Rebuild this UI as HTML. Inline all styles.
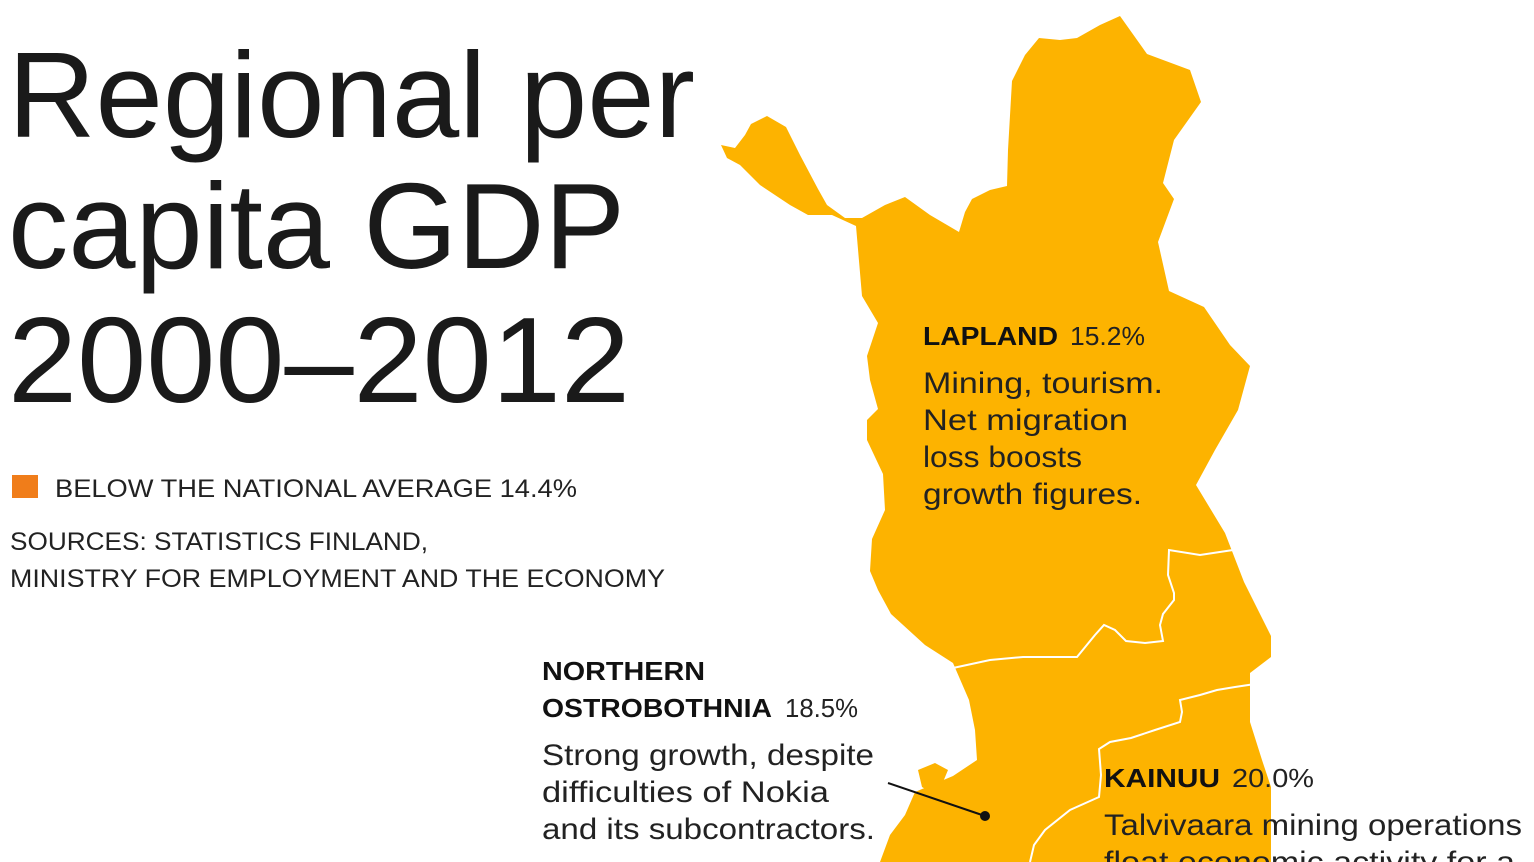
<!DOCTYPE html>
<html><head><meta charset="utf-8"><style>
html,body{margin:0;padding:0;background:#fff;}
svg{display:block;}
text{font-family:"Liberation Sans",sans-serif;fill:#1a1a1a;}
.t{font-size:122px;}
.s{font-size:25px;fill:#222;}
.b{font-size:26px;font-weight:bold;fill:#111;}
.p{font-size:26px;fill:#222;}
.m{font-size:30px;fill:#222;}
</style></head><body>
<svg width="1534" height="862" viewBox="0 0 1534 862" xmlns="http://www.w3.org/2000/svg">
<rect width="1534" height="862" fill="#fff"/>
<path fill="#fdb300" d="M1120,16 L1147,54 L1190,70 L1201,102 L1174,140 L1163,183 L1174,199 L1158,242 L1169,291 L1204,307 L1230,345 L1250,366 L1238,410 L1215,450 L1196,485 L1225,533 L1244,582 L1258,610 L1271,636 L1271,657 L1250,673 L1250,722 L1262,760 L1271,787 L1271,862 L880,862 L890,835 L905,815 L915,792 L953,776 L977,760 L975,730 L969,700 L953,663 L925,645 L891,614 L878,590 L870,571 L872,539 L885,510 L883,474 L867,440 L867,420 L878,409 L870,380 L867,356 L878,323 L862,296 L856,226 L832,215 L808,215 L790,205 L760,185 L740,165 L727,158 L721,145 L735,148 L745,135 L751,124 L767,116 L786,127 L800,155 L818,189 L827,205 L845,218 L862,218 L885,205 L905,197 L930,215 L959,232 L965,212 L972,199 L990,190 L1007,186 L1008,150 L1012,81 L1025,55 L1039,38 L1060,40 L1077,38 L1100,25 Z"/>
<path fill="#fdb300" d="M918,770 L935,763 L948,770 L943,782 L952,790 L935,795 L922,787 Z"/>
<polyline fill="none" stroke="#fff" stroke-width="2" points="953,668 990,660 1023,657 1077,657 1095,635 1104,625 1115,630 1126,641 1145,643 1163,641 1160,625 1163,614 1174,600 1174,593 1168,575 1169,550 1200,555 1233,550 1242,548"/>
<polyline fill="none" stroke="#fff" stroke-width="2" points="1255,684 1235,687 1217,690 1200,695 1180,700 1182,712 1180,722 1155,730 1131,738 1110,742 1099,749 1101,775 1099,797 1070,810 1045,830 1034,845 1030,862"/>
<text class="t" x="8" y="137" textLength="687" lengthAdjust="spacingAndGlyphs">Regional per</text>
<text class="t" x="8" y="268" textLength="617" lengthAdjust="spacingAndGlyphs">capita GDP</text>
<text class="t" x="8" y="402" textLength="622" lengthAdjust="spacingAndGlyphs">2000–2012</text>
<rect x="12" y="475" width="26" height="23" fill="#f07d1a"/>
<text class="s" x="55" y="497" textLength="522" lengthAdjust="spacingAndGlyphs">BELOW THE NATIONAL AVERAGE 14.4%</text>
<text class="s" x="10" y="550" textLength="418" lengthAdjust="spacingAndGlyphs">SOURCES: STATISTICS FINLAND,</text>
<text class="s" x="10" y="587" textLength="655" lengthAdjust="spacingAndGlyphs">MINISTRY FOR EMPLOYMENT AND THE ECONOMY</text>
<text class="b" x="923" y="345" textLength="135" lengthAdjust="spacingAndGlyphs">LAPLAND</text>
<text class="p" x="1070" y="345" textLength="75" lengthAdjust="spacingAndGlyphs">15.2%</text>
<text class="m" x="923" y="393" textLength="240" lengthAdjust="spacingAndGlyphs">Mining, tourism.</text>
<text class="m" x="923" y="430" textLength="205" lengthAdjust="spacingAndGlyphs">Net migration</text>
<text class="m" x="923" y="467" textLength="159" lengthAdjust="spacingAndGlyphs">loss boosts</text>
<text class="m" x="923" y="504" textLength="219" lengthAdjust="spacingAndGlyphs">growth figures.</text>
<text class="b" x="542" y="680" textLength="163" lengthAdjust="spacingAndGlyphs">NORTHERN</text>
<text class="b" x="542" y="717" textLength="230" lengthAdjust="spacingAndGlyphs">OSTROBOTHNIA</text>
<text class="p" x="785" y="717" textLength="73" lengthAdjust="spacingAndGlyphs">18.5%</text>
<text class="m" x="542" y="765" textLength="332" lengthAdjust="spacingAndGlyphs">Strong growth, despite</text>
<text class="m" x="542" y="802" textLength="287" lengthAdjust="spacingAndGlyphs">difficulties of Nokia</text>
<text class="m" x="542" y="839" textLength="333" lengthAdjust="spacingAndGlyphs">and its subcontractors.</text>
<line x1="888" y1="783" x2="985" y2="816" stroke="#111" stroke-width="2"/>
<circle cx="985" cy="816" r="5" fill="#111"/>
<text class="b" x="1104" y="787" textLength="116" lengthAdjust="spacingAndGlyphs">KAINUU</text>
<text class="p" x="1232" y="787" textLength="82" lengthAdjust="spacingAndGlyphs">20.0%</text>
<text class="m" x="1104" y="835" textLength="418" lengthAdjust="spacingAndGlyphs">Talvivaara mining operations</text>
<text class="m" x="1104" y="872" textLength="411" lengthAdjust="spacingAndGlyphs">float economic activity for a</text>
</svg>
</body></html>
